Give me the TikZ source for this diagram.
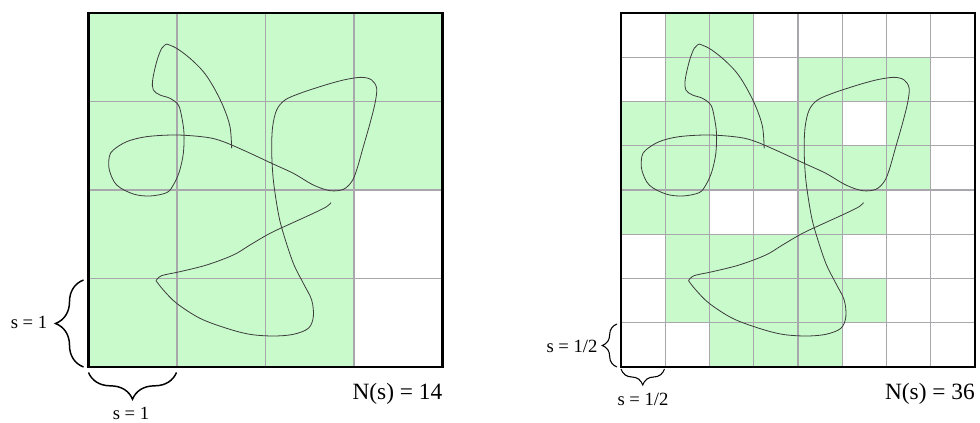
\documentclass[tikz,border=0pt]{standalone}
\usepackage{fontspec}
\setmainfont{Liberation Serif}
\usetikzlibrary{decorations.pathreplacing}
\definecolor{boxgreen}{RGB}{201,250,204}
\definecolor{gridgray}{RGB}{168,168,172}
\definecolor{curvegray}{RGB}{60,60,60}
\begin{document}
\begin{tikzpicture}[x=0.75pt,y=-0.75pt,
  cellfill/.style={fill=boxgreen,draw=none},
  gridline/.style={draw=gridgray,line width=1pt},
  frame/.style={draw=black,line width=1.9pt},
  curveline/.style={draw=curvegray,line width=0.6pt,line join=round},
  bracebig/.style={draw=black,line width=1.1pt,decorate,decoration={brace,amplitude=#1}},
  smalllab/.style={font=\fontsize{14}{16}\selectfont,inner sep=0pt},
  countlab/.style={font=\fontsize{17.5}{20}\selectfont,inner sep=0pt,anchor=east}]
\useasboundingbox (0,0) rectangle (980,423);

% ---------- left grid (s = 1) ----------
\def\Lx{88.5}\def\Ty{13}\def\S{354}
\fill[boxgreen] (\Lx,\Ty) rectangle ++(\S,\S);
\fill[white] (\Lx+3*88.5,\Ty+2*88.5) rectangle ++(88.5,2*88.5);
\foreach \i in {1,2,3}{
  \draw[gridline] (\Lx+\i*88.5,\Ty) -- (\Lx+\i*88.5,\Ty+\S);
  \draw[gridline] (\Lx,\Ty+\i*88.5) -- (\Lx+\S,\Ty+\i*88.5);
}

% ---------- right grid (s = 1/2) ----------
\def\Rx{621}
\foreach \c/\r in {1/0,2/0,
  1/1,2/1,4/1,5/1,6/1,
  0/2,1/2,2/2,3/2,4/2,6/2,
  0/3,1/3,2/3,3/3,4/3,5/3,6/3,
  0/4,1/4,4/4,5/4,
  1/5,2/5,3/5,4/5,
  1/6,2/6,3/6,4/6,5/6,
  2/7,3/7,4/7}{
  \fill[boxgreen] (\Rx+\c*44.25,\Ty+\r*44.25) rectangle ++(44.25,44.25);
}
\foreach \i in {1,...,7}{
  \draw[gridline] (\Rx+\i*44.25,\Ty) -- (\Rx+\i*44.25,\Ty+\S);
  \draw[gridline] (\Rx,\Ty+\i*44.25) -- (\Rx+\S,\Ty+\i*44.25);
}

% ---------- curves ----------
\foreach \dx in {0,532.5}{
\begin{scope}[shift={(80+\dx,0)},scale=1/3]
  \draw[curveline] plot[smooth,tension=0.55] coordinates {(455,445) (450,380) (430,320) (400,260) (370,215) (330,175) (290,145) (260,132)};
  \draw[curveline] plot[smooth,tension=0.55] coordinates {(260,132) (245,145) (230,185) (218,240) (220,270) (240,285) (270,295) (295,315) (305,350) (312,400) (310,460) (298,515) (280,555) (260,578) (210,588) (160,582) (110,555) (88,510) (88,470) (100,450) (140,425) (200,410) (290,405) (380,412) (430,425) (500,455) (575,490) (640,520) (700,555) (750,572) (790,568) (815,545) (830,510) (850,440) (870,370) (885,310) (890,265) (875,240) (845,232) (800,238) (760,248) (720,260) (660,280) (615,300) (590,330) (578,380) (575,450) (580,540) (595,640) (610,700) (640,790) (670,850) (695,900) (700,950) (685,985) (640,1003) (580,1008) (510,1003) (440,985) (360,955) (290,910) (250,870) (228,842)};
  \draw[curveline] plot[smooth,tension=0.55] coordinates {(228,842) (245,827) (300,815) (380,795) (460,765) (510,735) (570,700) (630,672) (700,640) (740,620) (753,608)};
\end{scope}
}

% ---------- frames ----------
\draw[frame] (\Lx,\Ty) rectangle ++(\S,\S);
\draw[frame] (\Rx,\Ty) rectangle ++(\S,\S);

% ---------- braces ----------
\coordinate (lvb) at (83.5,367);
\coordinate (lvt) at (83.5,280);
\coordinate (lhr) at (176.5,372.5);
\coordinate (lhl) at (88.5,372.5);
\draw[bracebig=21pt] (lvb) -- (lvt);
\draw[bracebig=20pt] (lhr) -- (lhl);
\coordinate (rvb) at (617,367);
\coordinate (rvt) at (617,324);
\coordinate (rhr) at (664.5,369);
\coordinate (rhl) at (621,369);
\draw[bracebig=11pt,line width=0.8pt] (rvb) -- (rvt);
\draw[bracebig=12pt,line width=0.8pt] (rhr) -- (rhl);

% ---------- labels ----------
\node[smalllab] (lv1) at (29,322.5) {s = 1};
\node[smalllab] (lh1) at (131,413.5) {s = 1};
\node[smalllab] (lv2) at (572,346.5) {s = 1/2};
\node[smalllab] (lh2) at (643,399.5) {s = 1/2};
\node[countlab] (n1) at (442.5,393.5) {N(s) = 14};
\node[countlab] (n2) at (975,393.5) {N(s) = 36};
\end{tikzpicture}
\end{document}
